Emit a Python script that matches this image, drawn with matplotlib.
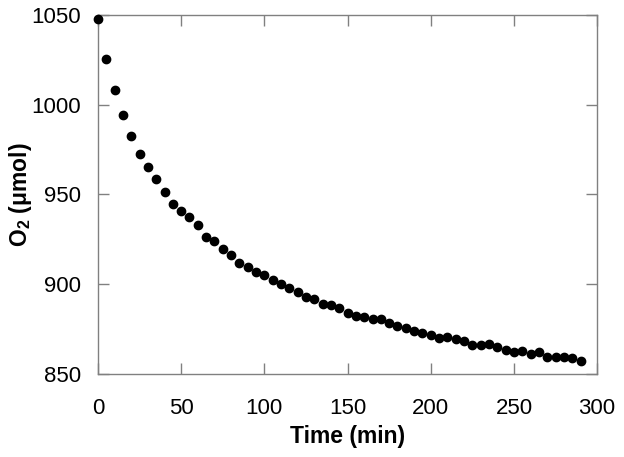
import matplotlib
matplotlib.use('Agg')
import matplotlib.pyplot as plt
import numpy as np

time_min = np.arange(0, 295, 5)
o2_umol = [1048.0, 1025.5, 1008.5, 994.5, 982.5, 972.5, 965.5, 958.5, 951.5, 944.5,
           941.0, 937.5, 933.0, 926.5, 924.0, 919.5, 916.0, 912.0, 909.4, 907.0,
           905.0, 902.4, 900.3, 898.1, 895.5, 892.9, 891.9, 889.0, 888.6, 886.6,
           884.0, 882.3, 881.9, 880.5, 880.5, 878.2, 876.9, 875.5, 874.1, 872.8,
           871.6, 870.2, 870.8, 869.5, 868.2, 866.0, 866.2, 866.7, 864.9, 863.4,
           862.4, 863.0, 861.0, 861.9, 859.3, 859.3, 859.3, 858.7, 857.4]

plt.rcParams['font.family'] = ['Liberation Sans', 'DejaVu Sans']
plt.rcParams['mathtext.fontset'] = 'custom'
plt.rcParams['mathtext.rm'] = 'Liberation Sans'
plt.rcParams['mathtext.bf'] = 'Liberation Sans:bold'

fig = plt.figure(figsize=(6.24, 4.57), dpi=100)
ax = fig.add_axes([0.157, 0.182, 0.800, 0.785])

ax.plot(time_min, o2_umol, 'o', color='black', ms=6, clip_on=False, zorder=3)

ax.set_xlim(0, 300)
ax.set_ylim(850, 1050)
ax.set_xticks(np.arange(0, 301, 50))
ax.set_yticks(np.arange(850, 1051, 50))

for s in ax.spines.values():
    s.set_color('#808080')
    s.set_linewidth(1.0)
ax.tick_params(direction='in', length=8, width=1, color='#808080',
               top=True, right=True, labelsize=16)
ax.tick_params(axis='x', pad=17.5)
ax.tick_params(axis='y', pad=12)

ax.set_xlabel('Time (min)', fontsize=16.5, fontweight='bold', labelpad=4)
ax.set_ylabel(r'O$_\mathbf{2}$ ($\mathbf{\mu}$mol)', fontsize=16.5, fontweight='bold', labelpad=-2)

fig.savefig('out.png', dpi=100)
